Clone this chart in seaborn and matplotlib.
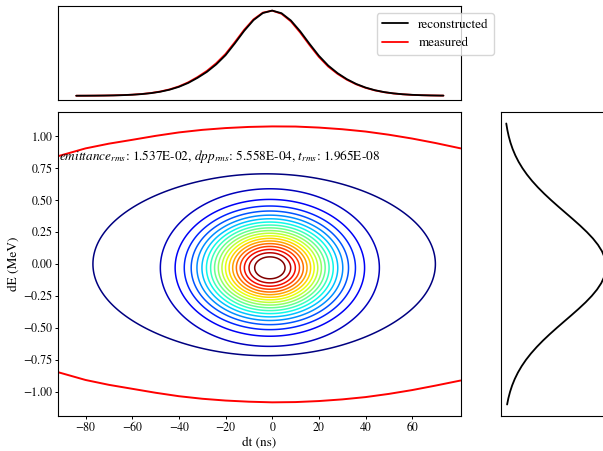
import numpy as np
import matplotlib
matplotlib.use("Agg")
import matplotlib.pyplot as plt
import seaborn as sns

# time profile (top panel), dt in ns
profile_dt = [-84, -80, -76, -72, -68, -64, -60, -56, -52, -48, -44, -40, -36, -32,
              -28, -24, -20, -16, -12, -8, -4, 0, 4, 8, 12, 16, 20, 24, 28, 32, 36,
              40, 44, 48, 52, 56, 60, 64, 68, 72, 73.4]
reconstructed = [0.0005, 0.0008, 0.0015, 0.0026, 0.0044, 0.0074, 0.0122, 0.0196, 0.0307,
                 0.0473, 0.0712, 0.1047, 0.1505, 0.2105, 0.280, 0.368, 0.476, 0.615, 0.762,
                 0.888, 0.971, 1.0, 0.969, 0.884, 0.757, 0.61, 0.47, 0.355, 0.266,
                 0.195, 0.139, 0.0968, 0.0655, 0.0433, 0.0281, 0.0178, 0.011, 0.0067, 0.004,
                 0.0023, 0.002]
measured = [0.0005, 0.0009, 0.0016, 0.0028, 0.0047, 0.0079, 0.013, 0.0208, 0.0325, 0.05,
            0.075, 0.11, 0.158, 0.22, 0.292, 0.382, 0.491, 0.630, 0.775, 0.897, 0.976,
            0.999, 0.962, 0.873, 0.742, 0.595, 0.456, 0.343, 0.257, 0.188, 0.134, 0.093,
            0.063, 0.0415, 0.0268, 0.017, 0.0105, 0.0064, 0.0038, 0.0022, 0.002]

# energy profile (right panel), dE in MeV
profile_de = [-1.10, -1.05, -1.00, -0.95, -0.90, -0.85, -0.80, -0.75, -0.70, -0.65, -0.60,
              -0.55, -0.50, -0.45, -0.40, -0.35, -0.30, -0.25, -0.20, -0.15, -0.10, -0.05,
              0.00, 0.05, 0.10, 0.15, 0.20, 0.25, 0.30, 0.35, 0.40, 0.45, 0.50, 0.55, 0.60,
              0.65, 0.70, 0.75, 0.80, 0.85, 0.90, 0.95, 1.00, 1.05, 1.10]
energy_profile = [0.0367, 0.0494, 0.0657, 0.0861, 0.1114, 0.1419, 0.1783, 0.2207, 0.2696,
                  0.3247, 0.3853, 0.4511, 0.5205, 0.5921, 0.6642, 0.7344, 0.8009, 0.8607,
                  0.9121, 0.9532, 0.982, 0.9975, 0.9989, 0.9862, 0.96, 0.9213, 0.8719,
                  0.8133, 0.7481, 0.6784, 0.6065, 0.5347, 0.4647, 0.3982, 0.3364, 0.2801,
                  0.23, 0.1863, 0.1487, 0.117, 0.0908, 0.0695, 0.0524, 0.039, 0.0286]

# separatrix
sep_dt = [-91.6, -80, -70, -60, -50, -40, -30, -20, -10, 0, 10, 20, 30, 40, 50, 60, 70, 80.8]
sep_upper = [0.845, 0.905, 0.942, 0.972, 1.003, 1.030, 1.050, 1.064, 1.073, 1.077, 1.076,
             1.068, 1.055, 1.037, 1.012, 0.982, 0.947, 0.905]
sep_lower = [-0.848, -0.908, -0.946, -0.977, -1.008, -1.035, -1.055, -1.069, -1.078, -1.083,
             -1.081, -1.073, -1.060, -1.042, -1.017, -0.987, -0.952, -0.912]

# bunch shape parameters (core + halo)
core_center = (-1.0, -0.03)
core_sigma = (18.5, 0.244)
halo_center = (-3.5, 0.0)
halo_axes = (77.0, 0.72)
halo_height = 0.06
contour_levels = [0.05, 0.10, 0.15, 0.20, 0.25, 0.30, 0.35, 0.40, 0.45, 0.50, 0.55, 0.60,
                  0.65, 0.70, 0.75, 0.80, 0.85, 0.90, 0.95, 1.00]

stats_text = (r"$emittance_{rms}$: 1.537E-02, $dpp_{rms}$: 5.558E-04, "
              r"$t_{rms}$: 1.965E-08")

XLIM = (-91.6, 80.8)
YLIM = (-1.19, 1.19)

sns.set_style("ticks")
plt.rcParams["font.family"] = ["STIXGeneral", "DejaVu Serif"]
plt.rcParams["mathtext.fontset"] = "stix"
plt.rcParams["font.size"] = 9.5
plt.rcParams["xtick.labelsize"] = 8.6
plt.rcParams["ytick.labelsize"] = 8.6
for key in ("axes.edgecolor", "xtick.color", "ytick.color", "text.color", "axes.labelcolor"):
    plt.rcParams[key] = "black"
for ax_name in ("xtick", "ytick"):
    plt.rcParams[ax_name + ".major.size"] = 2.4
    plt.rcParams[ax_name + ".major.pad"] = 1.9
    plt.rcParams[ax_name + ".major.width"] = 0.7
plt.rcParams["axes.linewidth"] = 0.8
plt.rcParams["axes.labelpad"] = 2.6

fig = plt.figure(figsize=(6.03, 4.51), dpi=100)
ax_main = fig.add_axes([0.097, 0.0776, 0.667, 0.6741])
ax_top = fig.add_axes([0.097, 0.7783, 0.667, 0.2077])
ax_right = fig.add_axes([0.8313, 0.0776, 0.23, 0.6741])

# phase space density
t = np.linspace(XLIM[0], XLIM[1], 400)
e = np.linspace(YLIM[0], YLIM[1], 400)
T, E = np.meshgrid(t, e)
core = np.exp(-0.5 * ((T - core_center[0]) / core_sigma[0]) ** 2
              - 0.5 * ((E - core_center[1]) / core_sigma[1]) ** 2)
rho = np.sqrt(((T - halo_center[0]) / halo_axes[0]) ** 2
              + ((E - halo_center[1]) / halo_axes[1]) ** 2)
halo = halo_height / (1 + np.exp((rho - 1) / 0.03))
Z = core + halo

ax_main.contour(T, E, Z, levels=contour_levels, cmap="jet", linewidths=1.1)
sns.lineplot(x=sep_dt, y=sep_upper, ax=ax_main, color="red", lw=1.4)
sns.lineplot(x=sep_dt, y=sep_lower, ax=ax_main, color="red", lw=1.4)
ax_main.text(XLIM[0] + 0.3, 0.84, stats_text, fontsize=9.5, va="center", ha="left")
ax_main.set_xlim(*XLIM)
ax_main.set_ylim(*YLIM)
ax_main.set_xticks([-80, -60, -40, -20, 0, 20, 40, 60])
ax_main.set_yticks([-1.0, -0.75, -0.5, -0.25, 0.0, 0.25, 0.5, 0.75, 1.0])
ax_main.set_xlabel("dt (ns)")
ax_main.set_ylabel("dE (MeV)")

# top profile
sns.lineplot(x=profile_dt, y=reconstructed, ax=ax_top, color="black", lw=1.3,
             label="reconstructed")
sns.lineplot(x=profile_dt, y=measured, ax=ax_top, color="red", lw=1.3, label="measured",
             zorder=1)
ax_top.set_xlim(*XLIM)
ax_top.set_xticks([])
ax_top.set_yticks([])
ax_top.legend(loc="upper right", bbox_to_anchor=(1.083, 0.925), borderaxespad=0,
              fontsize=9.4)

# right profile
ax_right.plot(energy_profile, profile_de, color="black", lw=1.3)
ax_right.set_xlim(-0.02, 1.33)
ax_right.set_ylim(*YLIM)
ax_right.set_xticks([])
ax_right.set_yticks([])

for a in (ax_main, ax_top, ax_right):
    for s in a.spines.values():
        s.set_visible(True)

fig.savefig("out.png", dpi=100)
